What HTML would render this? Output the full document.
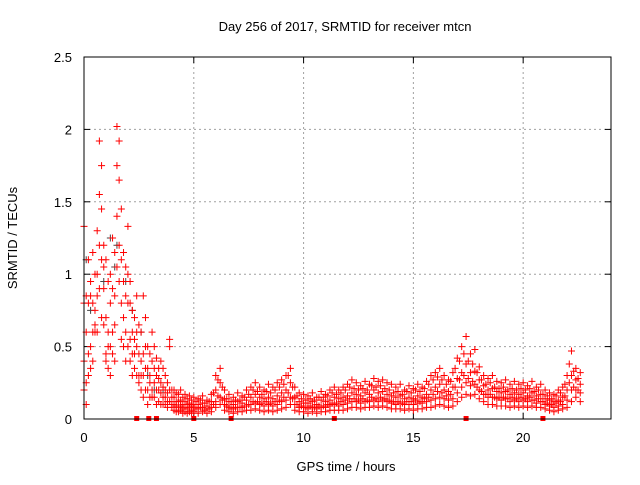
<!DOCTYPE html>
<html><head><meta charset="utf-8"><style>
body{margin:0;background:#fff}
svg text{font-family:"Liberation Sans",sans-serif;font-size:13px;fill:#000}
</style></head><body>
<svg id="chart" width="640" height="480" xmlns="http://www.w3.org/2000/svg">
<text x="345" y="31" text-anchor="middle">Day 256 of 2017, SRMTID for receiver mtcn</text>
<text x="346" y="471" text-anchor="middle">GPS time / hours</text>
<text transform="translate(17,238) rotate(-90)" text-anchor="middle">SRMTID / TECUs</text>
<g id="grid"></g><g id="ticks"></g><g id="marks"></g>
<rect x="84" y="57" width="527" height="362" fill="none" stroke="#000" stroke-width="1"/>
</svg>
<script>
const xTicks=[0,5,10,15,20];
const yTicks=[0,0.5,1,1.5,2,2.5];
const yTickLabels=["0","0.5","1","1.5","2","2.5"];
const times=[0,0.1,0.2,0.3,0.4,0.5,0.6,0.7,0.8,0.9,1.0,1.1,1.2,1.3,1.4,1.5,1.6,1.7,1.8,1.9,2.0,2.1,2.2,2.3,2.4,2.5,2.6,2.7,2.8,2.9,3.0,3.1,3.2,3.3,3.4,3.5,3.6,3.7,3.8,3.9,4.0,4.1,4.2,4.3,4.4,4.5,4.6,4.7,4.8,4.9,
5.0,5.2,5.4,5.6,5.8,6.0,6.2,6.4,6.6,6.8,7.0,7.2,7.4,7.6,7.8,8.0,8.2,8.4,8.6,8.8,9.0,9.2,9.4,9.6,9.8,10.0,10.2,10.4,10.6,10.8,11.0,11.2,11.4,11.6,11.8,12.0,12.2,12.4,12.6,12.8,13.0,13.2,13.4,13.6,13.8,14.0,14.2,14.4,14.6,14.8,15.0,15.2,15.4,15.6,15.8,16.0,16.2,16.4,16.6,16.8,17.0,17.2,17.4,17.6,17.8,18.0,18.2,18.4,18.6,18.8,19.0,19.2,19.4,19.6,19.8,20.0,20.2,20.4,20.6,20.8,21.0,21.2,21.4,21.6,21.8,22.0,22.2,22.4,22.6];
const valsHigh=[1.33,0.85,1.1,0.95,1.15,1.0,1.3,1.92,1.75,1.2,1.1,0.95,1.0,1.25,1.15,2.02,1.92,1.45,1.15,1.05,1.33,0.95,0.75,0.7,0.85,0.65,0.6,0.85,0.7,0.5,0.45,0.6,0.5,0.42,0.35,0.4,0.35,0.3,0.25,0.55,0.2,0.2,0.18,0.17,0.2,0.15,0.17,0.14,0.16,0.13,
.15,.14,.16,.13,.17,.3,.35,.2,.17,.15,.18,.16,.2,.22,.25,.22,.2,.24,.22,.25,.27,.3,.35,.22,.18,.17,.16,.18,.15,.19,.17,.2,.22,.2,.22,.24,.27,.25,.23,.26,.24,.28,.26,.27,.25,.24,.22,.24,.2,.23,.21,.24,.22,.26,.3,.32,.35,.3,.27,.32,.42,.5,.57,.45,.48,.36,.3,.28,.3,.26,.25,.27,.24,.26,.24,.25,.23,.26,.22,.24,.2,.18,.17,.2,.22,.3,.47,.35,.32];
const valsMid1=[0.8,0.6,0.8,0.85,0.8,0.75,1.0,1.55,1.45,1.05,0.7,0.6,0.8,0.9,0.85,1.75,1.65,1.1,0.95,0.85,1.0,0.8,0.6,0.55,0.6,0.45,0.4,0.45,0.5,0.35,0.3,0.4,0.35,0.3,0.28,0.25,0.22,0.2,0.18,0.5,0.15,0.15,0.12,0.12,0.13,0.1,0.12,0.1,0.11,0.09,
.1,.1,.11,.09,.12,.2,.25,.14,.12,.1,.12,.11,.13,.15,.17,.15,.14,.15,.14,.16,.18,.2,.25,.15,.12,.11,.11,.12,.1,.13,.12,.13,.15,.14,.15,.16,.18,.17,.16,.18,.17,.2,.18,.19,.17,.16,.15,.16,.14,.15,.14,.16,.15,.17,.2,.22,.24,.2,.19,.22,.28,.32,.38,.32,.33,.27,.23,.2,.21,.19,.18,.19,.17,.18,.17,.18,.16,.18,.16,.17,.14,.13,.12,.13,.15,.2,.3,.27,.24];
const valsMid2=[0.4,0.25,0.45,0.5,0.6,0.6,0.85,1.2,1.1,0.9,0.45,0.5,0.5,0.6,0.65,1.4,1.2,0.8,0.7,0.6,0.8,0.55,0.45,0.45,0.5,0.3,0.3,0.3,0.35,0.2,0.25,0.2,0.25,0.2,0.2,0.18,0.15,0.15,0.12,0.2,0.1,0.1,0.09,0.08,0.09,0.07,0.08,0.07,0.08,0.06,
.08,.07,.08,.07,.08,.12,.15,.1,.08,.07,.08,.08,.09,.1,.11,.1,.09,.1,.09,.1,.12,.13,.15,.1,.08,.08,.07,.08,.07,.08,.08,.09,.1,.09,.1,.11,.12,.12,.11,.12,.12,.13,.12,.13,.12,.11,.1,.11,.1,.1,.1,.11,.11,.12,.13,.14,.15,.14,.13,.14,.18,.22,.25,.23,.24,.2,.17,.15,.15,.14,.13,.14,.12,.13,.12,.13,.12,.13,.11,.12,.1,.09,.08,.09,.1,.13,.2,.2,.18];
const valsLow=[0.2,0.1,0.3,0.35,0.4,0.65,0.6,0.9,0.7,0.65,0.4,0.35,0.3,0.45,0.4,1.05,0.95,0.55,0.5,0.4,0.5,0.4,0.3,0.35,0.3,0.25,0.2,0.15,0.2,0.1,0.15,0.15,0.15,0.1,0.12,0.1,0.1,0.1,0.08,0.12,0.08,0.06,0.05,0.05,0.06,0.04,0.05,0.04,0.05,0.04,
.05,.04,.05,.04,.05,.08,.1,.06,.05,.04,.05,.05,.06,.06,.07,.06,.05,.06,.05,.06,.07,.08,.1,.06,.05,.05,.04,.05,.04,.05,.05,.06,.06,.06,.06,.07,.08,.08,.07,.08,.08,.09,.08,.09,.08,.07,.07,.07,.06,.07,.06,.07,.07,.08,.08,.09,.1,.09,.08,.09,.12,.15,.17,.16,.17,.14,.12,.1,.1,.09,.09,.09,.08,.09,.08,.09,.08,.09,.08,.08,.07,.06,.05,.06,.07,.08,.12,.15,.12];
const timesB=[5.1,5.3,5.5,5.7,5.9,6.1,6.3,6.5,6.7,6.9,7.1,7.3,7.5,7.7,7.9,8.1,8.3,8.5,8.7,8.9,9.1,9.3,9.5,9.7,9.9,10.1,10.3,10.5,10.7,10.9,11.1,11.3,11.5,11.7,11.9,12.1,12.3,12.5,12.7,12.9,13.1,13.3,13.5,13.7,13.9,14.1,14.3,14.5,14.7,14.9,15.1,15.3,15.5,15.7,15.9,16.1,16.3,16.5,16.7,16.9,17.1,17.3,17.5,17.7,17.9,18.1,18.3,18.5,18.7,18.9,19.1,19.3,19.5,19.7,19.9,20.1,20.3,20.5,20.7,20.9,21.1,21.3,21.5,21.7,21.9,22.1,22.3,22.5];
const valsB1=[.12,.13,.11,.12,.18,.27,.22,.14,.12,.13,.13,.15,.17,.2,.19,.17,.19,.18,.2,.22,.24,.3,.22,.16,.14,.13,.14,.13,.15,.15,.16,.18,.17,.18,.2,.22,.21,.2,.21,.2,.23,.22,.23,.21,.2,.18,.19,.17,.19,.18,.2,.19,.21,.24,.27,.29,.27,.24,.26,.35,.4,.45,.4,.38,.32,.27,.24,.25,.22,.21,.22,.2,.21,.2,.21,.2,.21,.19,.2,.17,.16,.14,.16,.18,.24,.38,.33,.28];
const valsB2=[.07,.08,.06,.07,.1,.16,.13,.09,.07,.08,.08,.09,.1,.12,.12,.11,.12,.11,.12,.13,.15,.18,.14,.1,.09,.08,.09,.08,.09,.09,.1,.11,.11,.12,.13,.14,.14,.13,.14,.13,.15,.14,.15,.14,.13,.12,.12,.11,.12,.12,.13,.12,.14,.15,.17,.19,.18,.16,.17,.22,.27,.3,.28,.26,.22,.19,.17,.17,.15,.15,.15,.14,.15,.14,.15,.14,.15,.13,.14,.12,.11,.1,.11,.12,.16,.25,.22,.2];
const zeroTimes=[2.4,2.95,3.3,5.0,6.7,11.4,17.4,20.9];
const greyTimes=[0.1,0.3,0.9,1.2,1.4,1.5,1.9,2.2,2.6,2.9,3.2,3.6];
const greyVals=[1.1,0.75,0.95,1.25,1.05,1.2,0.95,0.75,0.6,0.3,0.2,0.2];
const NS='http://www.w3.org/2000/svg';
const X0=84,X1=611,Y0=419,Y1=57,XMAX=24,YMAX=2.5;
function xs(v){return X0+v*(X1-X0)/XMAX;}
function ys(v){return Y0-v*(Y0-Y1)/YMAX;}
function mk(tag,attrs,parent){const e=document.createElementNS(NS,tag);for(const k in attrs)e.setAttribute(k,attrs[k]);parent.appendChild(e);return e;}
const grid=document.getElementById('grid'),ticks=document.getElementById('ticks'),marks=document.getElementById('marks');
xTicks.forEach(function(t){
  const px=xs(t);
  if(t>0){const g=mk('line',{x1:px,x2:px,y1:Y1,y2:Y0,stroke:'#a0a0a0','stroke-dasharray':'2,3'},grid);
  
  }
  mk('line',{x1:px,x2:px,y1:Y0,y2:Y0-6,stroke:'#000'},ticks);
  mk('line',{x1:px,x2:px,y1:Y1,y2:Y1+6,stroke:'#000'},ticks);
  const l=mk('text',{x:px,y:Y0+23,'text-anchor':'middle'},ticks);l.textContent=t;
  
  
});
yTicks.forEach(function(t,i){
  const py=ys(t);
  if(t>0&&t<YMAX){const g=mk('line',{x1:X0,x2:X1,y1:py,y2:py,stroke:'#a0a0a0','stroke-dasharray':'2,3'},grid);
  
  }
  mk('line',{x1:X0,x2:X0+6,y1:py,y2:py,stroke:'#000'},ticks);
  mk('line',{x1:X1,x2:X1-6,y1:py,y2:py,stroke:'#000'},ticks);
  const l=mk('text',{x:X0-12,y:py+5,'text-anchor':'end'},ticks);l.textContent=yTickLabels[i];
  
  
});
function plus(t,v,col){
  const px=xs(t),py=ys(v);
  const p=mk('path',{d:'M'+(px-3.5)+' '+py+'h7M'+px+' '+(py-3.5)+'v7',stroke:col,'stroke-width':1,fill:'none'},marks);
  
  
}
greyTimes.forEach(function(t,i){plus(t,greyVals[i],'#444');});
[valsHigh,valsMid1,valsMid2,valsLow].forEach(function(arr){
  times.forEach(function(t,i){plus(t,arr[i],'#ff0000');});
});
[valsB1,valsB2].forEach(function(arr){
  timesB.forEach(function(t,i){plus(t,arr[i],'#ff0000');});
});
zeroTimes.forEach(function(t){
  const r=mk('rect',{x:xs(t)-2.5,y:Y0-3,width:5,height:5,fill:'#ff0000'},marks);
  
  
});
</script>
</body></html>
